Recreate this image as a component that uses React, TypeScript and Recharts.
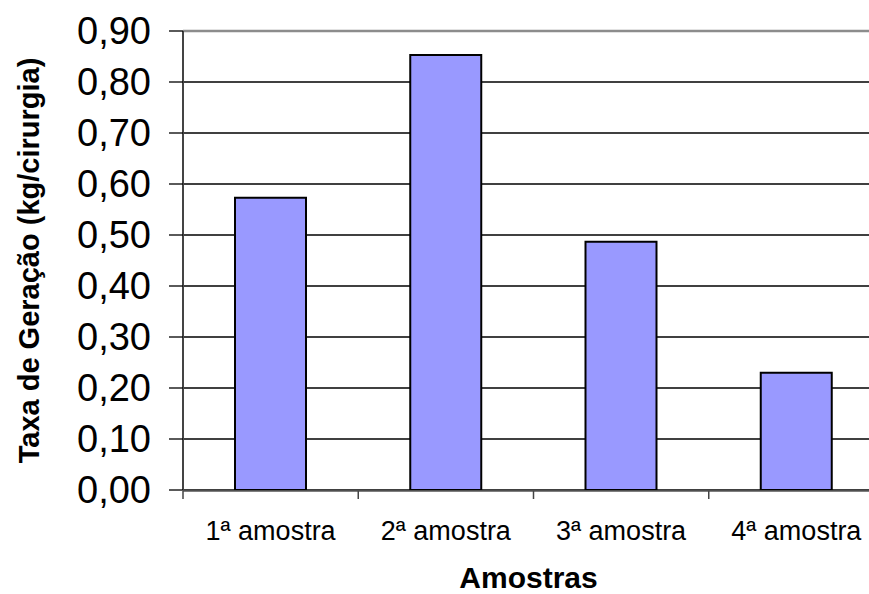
import React from "react";
import {
  BarChart,
  Bar,
  XAxis,
  YAxis,
  CartesianGrid,
  ReferenceLine,
  Label,
} from "recharts";

const amostras = ["1ª amostra", "2ª amostra", "3ª amostra", "4ª amostra"];
const taxas = [0.573, 0.853, 0.487, 0.23];
const yTicks = [0, 0.1, 0.2, 0.3, 0.4, 0.5, 0.6, 0.7, 0.8, 0.9];
const boundaryTicks = [0, 1, 2, 3, 4];

const data = amostras.map((nome, i) => ({ nome, taxa: taxas[i] }));

const FONT = "Arial, 'Liberation Sans', sans-serif";

const fmt = (v: number) => v.toFixed(2).replace(".", ",");

const NoLabel = () => <g />;

export default function App() {
  return (
    <div
      style={{
        position: "fixed",
        left: 0,
        top: 0,
        width: 869,
        height: 594,
        overflow: "hidden",
        background: "#fff",
      }}
    >
      <BarChart
        width={886}
        height={594}
        data={data}
        margin={{ top: 31, right: 2, bottom: 44, left: 0 }}
        barSize={71}
      >
        <CartesianGrid vertical={false} stroke="#000" strokeWidth={1.3} />
        <XAxis
          xAxisId="cat"
          dataKey="nome"
          tickLine={false}
          axisLine={false}
          height={1}
          tickMargin={25}
          tick={{ fill: "#000", fontSize: 27, fontFamily: FONT }}
          interval={0}
        />
        <XAxis
          xAxisId="marks"
          type="number"
          dataKey="taxa"
          domain={[0, 4]}
          ticks={boundaryTicks}
          interval={0}
          allowDataOverflow
          tick={NoLabel}
          tickSize={8}
          tickLine={{ stroke: "#444", strokeWidth: 1.5 }}
          axisLine={{ stroke: "#555", strokeWidth: 1.5 }}
          height={59}
        >
          <Label
            content={({ viewBox }: any) => (
              <text
                x={viewBox.x + viewBox.width / 2 - 5}
                y={588}
                textAnchor="middle"
                fontFamily={FONT}
                fontWeight="bold"
                fontSize={30}
                fill="#000"
              >
                Amostras
              </text>
            )}
          />
        </XAxis>
        <YAxis
          width={183}
          domain={[0, 0.9]}
          ticks={yTicks}
          interval={0}
          tickFormatter={fmt}
          tickSize={14}
          tickMargin={18}
          tickLine={{ stroke: "#000", strokeWidth: 1.3 }}
          axisLine={{ stroke: "#444", strokeWidth: 2 }}
          tick={{ fill: "#000", fontSize: 38, fontFamily: FONT }}
          allowDataOverflow
        >
          <Label
            content={({ viewBox }: any) => {
              const cy = viewBox.y + viewBox.height / 2;
              return (
                <text
                  x={29}
                  y={cy}
                  transform={`rotate(-90 29 ${cy})`}
                  textAnchor="middle"
                  dominantBaseline="central"
                  fontFamily={FONT}
                  fontWeight="bold"
                  fontSize={29}
                  fill="#000"
                >
                  Taxa de Geração (kg/cirurgia)
                </text>
              );
            }}
          />
        </YAxis>
        <ReferenceLine
          xAxisId="cat"
          y={0.9}
          stroke="#8c8c8c"
          strokeWidth={2.5}
        />
        <Bar
          xAxisId="cat"
          dataKey="taxa"
          fill="#9999ff"
          stroke="#000"
          strokeWidth={2}
          isAnimationActive={false}
        />
      </BarChart>
    </div>
  );
}
